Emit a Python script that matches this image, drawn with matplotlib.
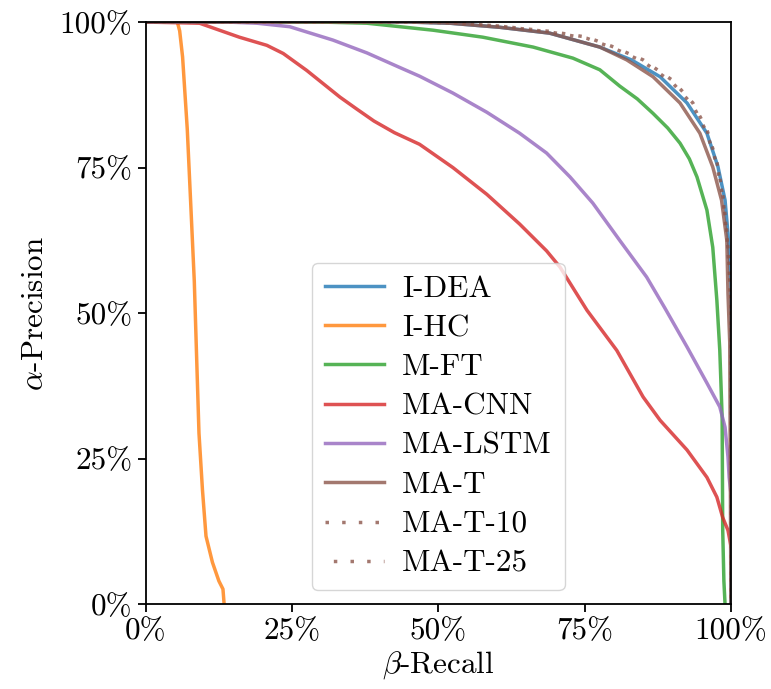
import matplotlib
matplotlib.use("Agg")
import matplotlib.pyplot as plt
from matplotlib.ticker import FixedLocator, FixedFormatter

plt.rcParams["font.family"] = "serif"
plt.rcParams["font.serif"] = ["cmr10"]
plt.rcParams["mathtext.fontset"] = "cm"
plt.rcParams["axes.formatter.use_mathtext"] = True
plt.rcParams["axes.unicode_minus"] = False

# beta-recall / alpha-precision curves per method
idea_recall = [0.0, 0.45, 0.52, 0.605, 0.69, 0.776, 0.83, 0.879, 0.925, 0.959, 0.978, 0.990, 0.995, 0.998, 1.0, 1.0]
idea_prec = [1.0, 1.0, 0.998, 0.991, 0.981, 0.957, 0.935, 0.906, 0.861, 0.809, 0.751, 0.694, 0.637, 0.59, 0.55, 0.0]

ihc_recall = [0.0, 0.054, 0.058, 0.063, 0.071, 0.077, 0.083, 0.087, 0.091, 0.097, 0.103, 0.114, 0.125, 0.132, 0.134]
ihc_prec = [1.0, 1.0, 0.985, 0.94, 0.816, 0.686, 0.555, 0.424, 0.294, 0.196, 0.117, 0.072, 0.040, 0.026, 0.0]

mft_recall = [0.0, 0.30, 0.378, 0.491, 0.576, 0.662, 0.730, 0.776, 0.81, 0.84, 0.867, 0.892, 0.913, 0.929, 0.942, 0.959, 0.969, 0.976, 0.981, 0.985, 0.986, 0.988, 0.99]
mft_prec = [1.0, 1.0, 0.998, 0.986, 0.974, 0.957, 0.938, 0.918, 0.89, 0.868, 0.843, 0.818, 0.792, 0.765, 0.734, 0.677, 0.613, 0.522, 0.436, 0.321, 0.127, 0.04, 0.0]

macnn_recall = [0.0, 0.092, 0.16, 0.207, 0.235, 0.275, 0.332, 0.36, 0.39, 0.425, 0.468, 0.525, 0.583, 0.639, 0.685, 0.708, 0.754, 0.805, 0.85, 0.879, 0.925, 0.959, 0.976, 0.986, 0.995, 1.0]
macnn_prec = [1.0, 0.998, 0.974, 0.96, 0.946, 0.917, 0.871, 0.851, 0.83, 0.81, 0.79, 0.75, 0.704, 0.653, 0.607, 0.579, 0.505, 0.436, 0.356, 0.316, 0.265, 0.218, 0.184, 0.149, 0.127, 0.10]

malstm_recall = [0.0, 0.14, 0.19, 0.246, 0.32, 0.378, 0.434, 0.468, 0.525, 0.583, 0.639, 0.685, 0.725, 0.764, 0.81, 0.856, 0.887, 0.925, 0.959, 0.981, 0.990, 0.995, 0.997, 1.0]
malstm_prec = [1.0, 1.0, 0.998, 0.992, 0.969, 0.947, 0.922, 0.907, 0.878, 0.845, 0.809, 0.775, 0.734, 0.689, 0.625, 0.562, 0.509, 0.442, 0.380, 0.339, 0.304, 0.253, 0.218, 0.19]

mat_recall = [0.0, 0.45, 0.52, 0.605, 0.69, 0.776, 0.822, 0.867, 0.913, 0.947, 0.969, 0.984, 0.993, 0.995, 0.998, 1.0]
mat_prec = [1.0, 1.0, 0.998, 0.991, 0.981, 0.957, 0.935, 0.906, 0.861, 0.809, 0.751, 0.694, 0.625, 0.534, 0.45, 0.0]

mat10_recall = [0.0, 0.45, 0.52, 0.605, 0.69, 0.754, 0.80, 0.85, 0.9, 0.935, 0.959, 0.976, 0.986, 0.993, 0.997, 1.0, 1.0]
mat10_prec = [1.0, 1.0, 0.999, 0.993, 0.984, 0.974, 0.957, 0.935, 0.9, 0.861, 0.815, 0.760, 0.705, 0.640, 0.58, 0.52, 0.0]

mat25_recall = [0.0, 0.45, 0.52, 0.605, 0.69, 0.754, 0.80, 0.85, 0.9, 0.935, 0.959, 0.976, 0.986, 0.993, 0.997, 1.0, 1.0]
mat25_prec = [1.0, 1.0, 0.999, 0.993, 0.983, 0.972, 0.955, 0.932, 0.896, 0.857, 0.81, 0.755, 0.70, 0.635, 0.575, 0.51, 0.0]

tick_values = [0.0, 0.25, 0.5, 0.75, 1.0]
tick_labels = ["0%", "25%", "50%", "75%", "100%"]

fs = 22.4
fig = plt.figure(figsize=(7.71, 6.89), dpi=100)
ax = fig.add_axes([0.189, 0.123, 0.759, 0.845])

lw = 2.5
alpha = 0.8
ax.plot(idea_recall, idea_prec, color="tab:blue", lw=lw, alpha=alpha, label="I-DEA")
ax.plot(ihc_recall, ihc_prec, color="tab:orange", lw=lw, alpha=alpha, label="I-HC")
ax.plot(mft_recall, mft_prec, color="tab:green", lw=lw, alpha=alpha, label="M-FT")
ax.plot(macnn_recall, macnn_prec, color="tab:red", lw=lw, alpha=alpha, label="MA-CNN")
ax.plot(malstm_recall, malstm_prec, color="tab:purple", lw=lw, alpha=alpha, label="MA-LSTM")
ax.plot(mat_recall, mat_prec, color="tab:brown", lw=lw, alpha=alpha, label="MA-T")
ax.plot(mat10_recall, mat10_prec, color="tab:brown", lw=lw, alpha=alpha,
        linestyle=(0, (1, 3.8)), label="MA-T-10")
ax.plot(mat25_recall, mat25_prec, color="tab:brown", lw=lw, alpha=alpha,
        linestyle=(2.4, (1, 3.8)), label="MA-T-25")

ax.set_xlim(0, 1)
ax.set_ylim(0, 1)
ax.xaxis.set_major_locator(FixedLocator(tick_values))
ax.xaxis.set_major_formatter(FixedFormatter(tick_labels))
ax.yaxis.set_major_locator(FixedLocator(tick_values))
ax.yaxis.set_major_formatter(FixedFormatter(tick_labels))
ax.tick_params(labelsize=fs, length=5.6, width=1.3, pad=4)
for sp in ax.spines.values():
    sp.set_linewidth(1.3)

ax.set_xlabel(r"$\beta$-Recall", fontsize=fs, labelpad=3)
ax.set_ylabel(r"$\alpha$-Precision", fontsize=fs, labelpad=8)

ax.legend(loc="lower center", fontsize=fs, handlelength=1.9, handletextpad=0.6,
          labelspacing=0.37, borderpad=0.4, borderaxespad=0.45, framealpha=0.8)

fig.savefig("out.png", dpi=100)
